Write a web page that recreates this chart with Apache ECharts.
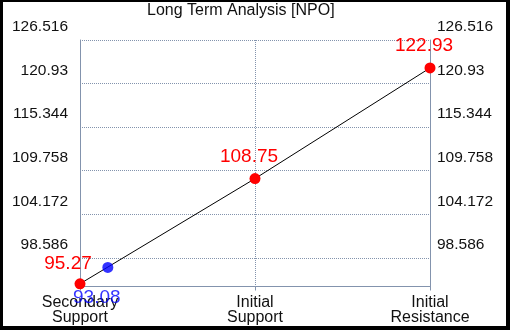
<!DOCTYPE html>
<html>
<head>
<meta charset="utf-8">
<script src="https://cdn.jsdelivr.net/npm/echarts@6/dist/echarts.min.js"></script>
<style>
html,body{margin:0;padding:0;background:#000;width:510px;height:330px;overflow:hidden;}
#chart{position:absolute;left:3px;top:2px;width:503px;height:324px;background:#fff;}
</style>
</head>
<body>
<div id="chart"></div>
<script>
// ---- data ----
const categories = ['Secondary\nSupport', 'Initial\nSupport', 'Initial\nResistance'];
const levelValues = [95.27, 108.75, 122.93];
const levelLabels = ['95.27', '108.75', '122.93'];
const currentPoint = [0.159, 97.36];
const currentLabel = '93.08';
const yTicks = [98.586, 104.172, 109.758, 115.344, 120.93, 126.516];
const yTickLabels = ['98.586', '104.172', '109.758', '115.344', '120.93', '126.516'];
const yMin = 94.92;
const yMax = 126.516;

// ---- styles ----
const AX = '#8393ad';
const GR = '#8393ad';
const FONT = '"Liberation Sans", Arial, sans-serif';

function tickLabel(v) {
  let best = 0, bd = Infinity;
  yTicks.forEach((t, i) => { const d = Math.abs(t - v); if (d < bd) { bd = d; best = i; } });
  return bd < 0.01 ? yTickLabels[best] : '';
}

function yAxisDef(pos, margin, showSplit) {
  return {
    type: 'value', position: pos, min: yMin, max: yMax,
    axisLine: { show: true, onZero: false, lineStyle: { color: AX, width: 1 } },
    axisTick: { show: false, customValues: yTicks },
    splitLine: { show: showSplit, lineStyle: { type: 'dotted', color: GR, width: 1 } },
    axisLabel: {
      customValues: yTicks, formatter: tickLabel, fontFamily: FONT, fontSize: 15.5,
      color: '#111', verticalAlign: 'bottom', lineHeight: 26, margin: margin
    }
  };
}

const redData = levelValues.map((v, i) => ({
  value: [i, v],
  label: { offset: i === 0 ? [-12, -20] : [-6, -22] }
}));

const option = {
  animation: false,
  backgroundColor: '#fff',
  title: {
    text: 'Long Term Analysis [NPO]', left: 144, top: 0, padding: 0,
    textStyle: { fontFamily: FONT, fontSize: 16, fontWeight: 'normal', color: '#111', lineHeight: 17 }
  },
  grid: { left: 77, top: 38, width: 350, height: 250, containLabel: false },
  xAxis: {
    type: 'value', min: 0, max: 2, interval: 1,
    axisLine: { show: true, onZero: false, lineStyle: { color: AX, width: 1 } },
    axisTick: { show: true, length: 4, lineStyle: { color: AX } },
    splitLine: { show: true, lineStyle: { type: 'dotted', color: GR, width: 1 } },
    axisLabel: {
      formatter: v => categories[Math.round(v)] || '',
      fontFamily: FONT, fontSize: 16, lineHeight: 15, margin: 9, color: '#111',
      showMinLabel: true, showMaxLabel: true
    }
  },
  yAxis: [yAxisDef('left', 12, true), yAxisDef('right', 7, false)],
  series: [
    {
      type: 'line', data: redData, clip: false,
      symbol: 'circle', symbolSize: 11,
      itemStyle: { color: '#ff0000' },
      lineStyle: { color: '#000', width: 1 },
      label: {
        show: true, position: 'inside', color: '#ff0000', fontFamily: FONT, fontSize: 19,
        formatter: p => levelLabels[p.dataIndex]
      },
      z: 3
    },
    {
      type: 'scatter', data: [currentPoint], clip: false,
      symbol: 'circle', symbolSize: 11,
      itemStyle: { color: '#0000ff' },
      label: {
        show: true, position: 'inside', offset: [-11, 30], color: '#0000ff',
        fontFamily: FONT, fontSize: 19, formatter: () => currentLabel
      },
      z: 4
    }
  ]
};

const chart = echarts.init(document.getElementById('chart'), null, { renderer: 'canvas' });
chart.setOption(option);
</script>
</body>
</html>
